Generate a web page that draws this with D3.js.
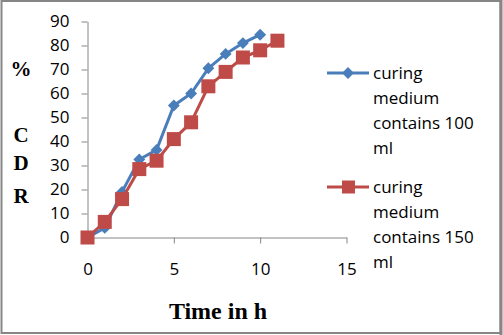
<!DOCTYPE html>
<html lang="en">
<head>
<meta charset="utf-8">
<title>% CDR vs time</title>
<script src="https://d3js.org/d3.v7.min.js"></script>
<style>
  body { margin: 0; background: #fff; }
  svg { display: block; }
</style>
</head>
<body>
<script>
  // data
  var time100 = [0, 1, 2, 3, 4, 5, 6, 7, 8, 9, 10];
  var cdr100 = [0, 4, 19, 32.5, 36.5, 55, 60, 70.5, 76.5, 81, 84.5];
  var time150 = [0, 1, 2, 3, 4, 5, 6, 7, 8, 9, 10, 11];
  var cdr150 = [0, 6.5, 16, 28.5, 32, 41, 48, 63, 69, 75, 78, 82];
  var xTicks = [0, 5, 10, 15];
  var yTicks = [0, 10, 20, 30, 40, 50, 60, 70, 80, 90];
  var seriesNames = ["curing medium contains 100 ml", "curing medium contains 150 ml"];

  var W = 503, H = 335;
  var blue = "#4a7ebb", red = "#be4b48", axisCol = "#868686";

  var svg = d3.select("body").append("svg")
      .attr("width", W).attr("height", H);

  // outer frame
  svg.append("rect")
      .attr("x", 1.5).attr("y", 1).attr("width", W - 4).attr("height", H - 3)
      .attr("fill", "#fff").attr("stroke", axisCol).attr("stroke-width", 2);
  svg.append("line").attr("x1", W - 2).attr("x2", W - 2).attr("y1", 0).attr("y2", H)
      .attr("stroke", axisCol).attr("stroke-width", 3);

  var x = d3.scaleLinear().domain([0, 15]).range([87.5, 346.5]);
  var y = d3.scaleLinear().domain([0, 90]).range([237.5, 21.5]);

  var tickFont = "'Open Sans', sans-serif";

  // axes
  var xAxis = d3.axisBottom(x).tickValues(xTicks).tickSize(6).tickSizeOuter(0).tickPadding(19);
  var gx = svg.append("g").attr("transform", "translate(0," + y(0) + ")").call(xAxis);
  var yAxis = d3.axisLeft(y).tickValues(yTicks).tickSize(6).tickSizeOuter(0).tickPadding(12);
  var gy = svg.append("g").attr("transform", "translate(" + x(0) + ",0)").call(yAxis);

  [gx, gy].forEach(function(g) {
    g.select(".domain").attr("stroke", axisCol);
    g.selectAll(".tick line").attr("stroke", axisCol);
    g.selectAll(".tick text")
        .attr("font-family", tickFont).attr("font-size", "17px").attr("fill", "#000");
  });
  gy.selectAll(".tick text").attr("x", -18);

  // lines and markers
  var line = d3.line()
      .x(function(d) { return x(d[0]); })
      .y(function(d) { return y(d[1]); });

  var pts100 = d3.zip(time100, cdr100);
  var pts150 = d3.zip(time150, cdr150);

  svg.append("path").datum(pts100).attr("d", line)
      .attr("fill", "none").attr("stroke", blue).attr("stroke-width", 3)
      .attr("stroke-linejoin", "round");
  svg.selectAll(".dia").data(pts100).enter().append("path")
      .attr("class", "dia")
      .attr("d", d3.symbol().type(d3.symbolDiamond2).size(90))
      .attr("transform", function(d) { return "translate(" + x(d[0]) + "," + y(d[1]) + ")"; })
      .attr("fill", blue);

  svg.append("path").datum(pts150).attr("d", line)
      .attr("fill", "none").attr("stroke", red).attr("stroke-width", 3)
      .attr("stroke-linejoin", "round");
  svg.selectAll(".sq").data(pts150).enter().append("rect")
      .attr("class", "sq")
      .attr("x", function(d) { return x(d[0]) - 7; })
      .attr("y", function(d) { return y(d[1]) - 7; })
      .attr("width", 14).attr("height", 14)
      .attr("fill", red);

  // axis titles
  var serif = "'Liberation Serif', 'Times New Roman', serif";
  svg.append("text").text("Time in h")
      .attr("x", 218).attr("y", 319).attr("text-anchor", "middle")
      .attr("font-family", serif).attr("font-weight", "bold").attr("font-size", "24px");

  var yTitle = [["%", 76], ["C", 142], ["D", 170], ["R", 203]];
  svg.selectAll(".ytitle").data(yTitle).enter().append("text")
      .attr("class", "ytitle")
      .text(function(d) { return d[0]; })
      .attr("x", 21).attr("y", function(d) { return d[1]; })
      .attr("text-anchor", "middle")
      .attr("font-family", serif).attr("font-weight", "bold").attr("font-size", "21px");

  // legend
  var legendLines = [["curing", "medium", "contains 100", "ml"],
                     ["curing", "medium", "contains 150", "ml"]];
  var leg = svg.append("g");
  [73, 187].forEach(function(ly, i) {
    var c = i === 0 ? blue : red;
    leg.append("line").attr("x1", 327).attr("x2", 369).attr("y1", ly).attr("y2", ly)
        .attr("stroke", c).attr("stroke-width", 3);
    if (i === 0) {
      leg.append("path").attr("d", d3.symbol().type(d3.symbolDiamond2).size(90))
          .attr("transform", "translate(348," + ly + ")").attr("fill", c);
    } else {
      leg.append("rect").attr("x", 342).attr("y", ly - 6.5).attr("width", 13).attr("height", 13)
          .attr("fill", c);
    }
    leg.append("text").attr("x", 373).attr("y", ly + 6)
        .attr("font-family", tickFont).attr("font-size", "17px").attr("fill", "#000")
        .selectAll("tspan").data(legendLines[i]).enter().append("tspan")
        .attr("x", 373).attr("dy", function(d, j) { return j === 0 ? 0 : 25; })
        .text(function(d) { return d; });
  });
</script>
</body>
</html>
